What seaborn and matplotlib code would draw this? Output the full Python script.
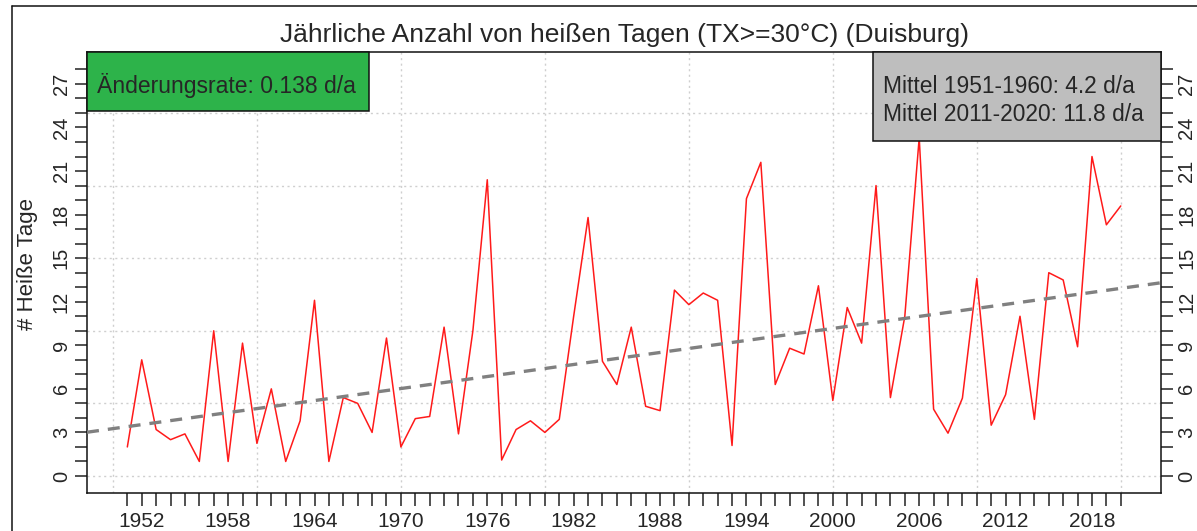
import matplotlib
matplotlib.use("Agg")
import matplotlib.pyplot as plt
from matplotlib.patches import Rectangle
from matplotlib.lines import Line2D
import numpy as np
import pandas as pd
import seaborn as sns

# jährliche Anzahl heißer Tage (TX >= 30 °C), Duisburg
years = list(range(1951, 2021))
hot_days = [
    2.0, 8.0, 3.2, 2.5, 2.9, 1.0, 10.0, 1.0, 9.15, 2.25,   # 1951-1960
    6.0, 1.0, 3.8, 12.1, 1.0, 5.4, 5.0, 3.0, 9.5, 2.0,     # 1961-1970
    3.95, 4.1, 10.25, 2.9, 10.0, 20.4, 1.1, 3.2, 3.8, 3.0, # 1971-1980
    3.9, 11.0, 17.8, 7.9, 6.3, 10.25, 4.8, 4.5, 12.8, 11.8, # 1981-1990
    12.6, 12.1, 2.1, 19.1, 21.6, 6.3, 8.8, 8.4, 13.1, 5.2, # 1991-2000
    11.6, 9.15, 20.0, 5.4, 11.0, 23.3, 4.6, 2.95, 5.36, 13.6, # 2001-2010
    3.5, 5.6, 11.0, 3.9, 14.0, 13.5, 8.9, 22.0, 17.3, 18.6, # 2011-2020
]

# linearer Trend
trend_slope = 0.138
trend_at_1951 = 3.4
trend_years = [1948.2, 2022.8]

xtick_labels = list(range(1952, 2019, 6))
ytick_labels = list(range(0, 28, 3))
grid_x = list(range(1950, 2021, 10))
grid_y = list(range(0, 26, 5))

title = "Jährliche Anzahl von heißen Tagen (TX>=30°C) (Duisburg)"
ylabel = "# Heiße Tage"
rate_text = "Änderungsrate: 0.138 d/a"
mean_texts = ["Mittel 1951-1960: 4.2 d/a", "Mittel 2011-2020: 11.8 d/a"]

sns.set_style("white")
plt.rcParams["font.family"] = ["Liberation Sans", "DejaVu Sans"]

df = pd.DataFrame({"Jahr": years, "Tage": hot_days})
trend_vals = [trend_at_1951 + trend_slope * (y - 1951) for y in trend_years]

fig = plt.figure(figsize=(11.97, 5.31), dpi=100)
ax = fig.add_axes([0.0727, 0.0716, 0.8973, 0.8305])

for gx in grid_x:
    ax.axvline(gx, color="#cfcfcf", lw=1.0, ls=(0, (1.5, 2.5)), zorder=0)
for gy in grid_y:
    ax.axhline(gy, color="#cfcfcf", lw=1.0, ls=(0, (1.5, 2.5)), zorder=0)

sns.lineplot(data=df, x="Jahr", y="Tage", color="#ff1a1a", lw=1.1, ax=ax, zorder=3)
ax.plot(trend_years, trend_vals, color="#808080", lw=2.4, ls=(0, (3.6, 2.7)), zorder=4)

ax.set_xlim(1948.2, 2022.8)
ax.set_ylim(-1.17, 29.2)

ax.set_xticks(years, minor=True)
ax.set_xticks(xtick_labels)
ax.set_xticklabels([str(v) for v in xtick_labels])
ax.set_yticks(range(0, 29), minor=True)
ax.set_yticks(ytick_labels)
ax.set_yticklabels([str(v) for v in ytick_labels], rotation=90, va="center")

ax.tick_params(axis="x", which="both", length=9.5, width=1.1, color="#222222",
               labelsize=15, pad=4, direction="out", bottom=True)
ax.tick_params(axis="y", which="both", length=8.7, width=1.1, color="#222222",
               labelsize=14.5, pad=3, direction="out", left=True, right=True,
               labelright=True)
for lab in ax.get_yticklabels():
    lab.set_rotation(90)
    lab.set_va("center")

for s in ax.spines.values():
    s.set_visible(True)
    s.set_color("#111111")
    s.set_linewidth(1.1)

ax.set_xlabel("")
ax.set_ylabel(ylabel, fontsize=16)
ax.yaxis.set_label_coords(-0.046, 0.52)
ax.set_title(title, fontsize=19, pad=7)

# Textboxen oben links / rechts
ax.add_patch(Rectangle((0.0, 0.8662), 0.2626, 0.1338, transform=ax.transAxes,
                       facecolor="#2db34a", edgecolor="#111111", lw=1.1, zorder=6,
                       clip_on=False))
ax.text(0.0093, 0.9077, rate_text, transform=ax.transAxes, fontsize=16.5,
        va="baseline", ha="left", zorder=7)

ax.add_patch(Rectangle((0.7318, 0.7982), 0.2682, 0.2018, transform=ax.transAxes,
                       facecolor="#bebebe", edgecolor="#111111", lw=1.1, zorder=6,
                       clip_on=False))
ax.text(0.741, 0.907, mean_texts[0], transform=ax.transAxes, fontsize=16.4,
        va="baseline", ha="left", zorder=7)
ax.text(0.741, 0.8435, mean_texts[1], transform=ax.transAxes, fontsize=16.4,
        va="baseline", ha="left", zorder=7)

# äußerer Rahmen
fig.add_artist(Line2D([0.010, 0.010], [0.0, 0.9887], color="#111111", lw=1.1,
                      transform=fig.transFigure))
fig.add_artist(Line2D([0.010, 1.0], [0.9887, 0.9887], color="#111111", lw=1.1,
                      transform=fig.transFigure))

fig.savefig("out.png", dpi=100)
